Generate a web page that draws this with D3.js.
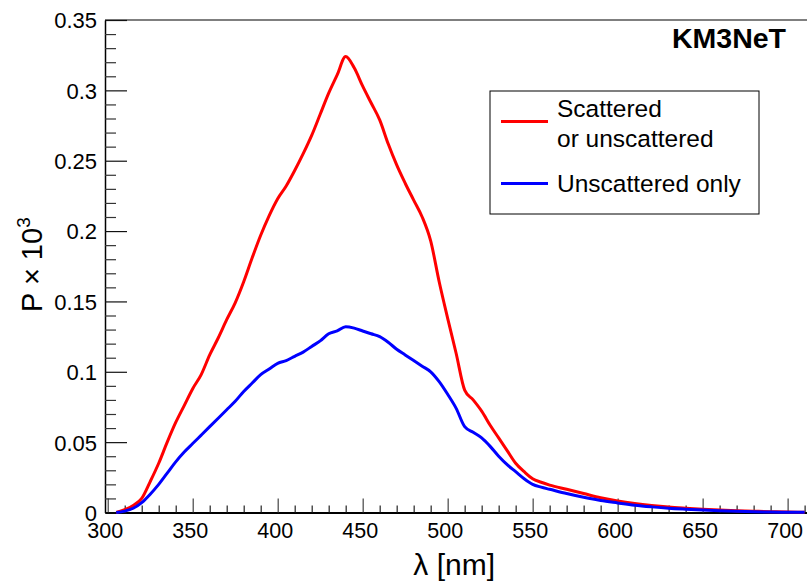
<!DOCTYPE html>
<html><head><meta charset="utf-8">
<script src="https://cdn.jsdelivr.net/npm/d3@7"></script>
<style>
html,body{margin:0;padding:0;background:#fff;}
svg{display:block;font-family:"Liberation Sans",Arial,Helvetica,sans-serif;}
</style></head>
<body>
<svg id="chart" width="807" height="581"></svg>
<script>
// wavelength grid (nm)
const wavelengths = [305,310,315,320,325,330,335,340,345,350,355,360,365,370,375,380,385,390,395,400,405,410,415,420,425,430,435,440,445,450,455,460,465,470,475,480,485,490,495,500,505,510,515,520,525,530,535,540,545,550,555,560,570,580,590,600,610,620,630,640,650,660,670,680,690,700,710];
// P x 10^3, scattered or unscattered
const scattered = [0,0.002,0.005,0.010,0.022,0.035,0.050,0.064,0.076,0.088,0.098,0.112,0.124,0.137,0.149,0.164,0.181,0.197,0.211,0.223,0.232,0.243,0.255,0.268,0.283,0.298,0.311,0.324,0.316,0.303,0.291,0.279,0.262,0.247,0.234,0.222,0.210,0.193,0.164,0.138,0.113,0.087,0.080,0.072,0.062,0.053,0.044,0.035,0.029,0.024,0.0215,0.0195,0.0165,0.0135,0.0105,0.0082,0.0064,0.005,0.0039,0.0031,0.0024,0.0018,0.0013,0.0009,0.0006,0.0003,0.0002];
// P x 10^3, unscattered only
const unscattered = [0,0.001,0.003,0.007,0.013,0.020,0.028,0.036,0.043,0.049,0.055,0.061,0.067,0.073,0.079,0.086,0.092,0.098,0.102,0.106,0.108,0.111,0.114,0.118,0.122,0.127,0.129,0.132,0.131,0.129,0.127,0.125,0.121,0.116,0.112,0.108,0.104,0.100,0.093,0.084,0.074,0.061,0.057,0.053,0.047,0.040,0.034,0.029,0.024,0.020,0.018,0.0165,0.0135,0.0108,0.0085,0.0068,0.0052,0.0040,0.0030,0.0023,0.0017,0.0012,0.0008,0.0005,0.0003,0.0002,0.0001];
const xMajorTicks = [300,350,400,450,500,550,600,650,700];
const yMajorTicks = [0,0.05,0.1,0.15,0.2,0.25,0.3,0.35];
const yTickLabels = ["0","0.05","0.1","0.15","0.2","0.25","0.3","0.35"];
const legendLabels = [["Scattered","or unscattered"],["Unscattered only"]];
const seriesColors = ["#ff0000","#0000ff"];

const svg = d3.select("#chart");
const x = d3.scaleLinear().domain([298.4, 711.4]).range([105, 807]);
const y = d3.scaleLinear().domain([0, 0.35]).range([512.5, 20]);

const xMinor = d3.range(300, 711, 10).filter(v => v % 50 !== 0);
const yMinor = d3.range(0, 36).map(i => i/100).filter((v,i) => i % 5 !== 0);

// frame top line
svg.append("line").attr("x1",105).attr("x2",807).attr("y1",20).attr("y2",20)
  .attr("stroke","#555").attr("stroke-width",1.5);

// X axis
const gx = svg.append("g").attr("transform","translate(0,512.5)");
gx.call(d3.axisBottom(x).tickValues(xMajorTicks).tickSize(-14).tickSizeOuter(0).tickFormat(d3.format("d")));
gx.select(".domain").attr("stroke","#000").attr("stroke-width",2);
gx.selectAll(".tick line").attr("stroke","#444").attr("stroke-width",1.2);
gx.selectAll(".tick text").attr("dy",null).attr("y",25.5).attr("dx",-3)
  .attr("font-size",21.5).attr("fill","#000").attr("font-family","Liberation Sans, Arial, sans-serif");
const gxm = svg.append("g").attr("transform","translate(0,512.5)");
gxm.call(d3.axisBottom(x).tickValues(xMinor).tickSize(-7).tickFormat(""));
gxm.select(".domain").remove();
gxm.selectAll(".tick line").attr("stroke","#222").attr("stroke-width",1.2);

// Y axis
const gy = svg.append("g").attr("transform","translate(105,0)");
gy.call(d3.axisLeft(y).tickValues(yMajorTicks).tickSize(-22).tickSizeOuter(0).tickFormat((d,i)=>yTickLabels[i]));
gy.select(".domain").attr("stroke","#000").attr("stroke-width",1.5);
gy.selectAll(".tick line").attr("stroke","#111").attr("stroke-width",1.2);
gy.selectAll(".tick text").attr("x",-8).attr("dy","0.36em")
  .attr("font-size",22).attr("fill","#000").attr("font-family","Liberation Sans, Arial, sans-serif");
const gym = svg.append("g").attr("transform","translate(105,0)");
gym.call(d3.axisLeft(y).tickValues(yMinor).tickSize(-11).tickFormat(""));
gym.select(".domain").remove();
gym.selectAll(".tick line").attr("stroke","#333").attr("stroke-width",1.2);

// curves
const line = d3.line().x(d=>x(d[0])).y(d=>y(d[1])).curve(d3.curveMonotoneX);
[scattered, unscattered].forEach((s,k)=>{
  svg.append("path").datum(wavelengths.map((w,i)=>[w,s[i]]))
    .attr("d", line).attr("fill","none").attr("stroke",seriesColors[k])
    .attr("stroke-width",3).attr("stroke-linejoin","round");
});

// legend
svg.append("rect").attr("x",490).attr("y",91).attr("width",269).attr("height",123)
  .attr("fill","#fff").attr("stroke","#000").attr("stroke-width",1);
const legY = [121.5, 183.5];
legendLabels.forEach((lines,k)=>{
  svg.append("line").attr("x1",501).attr("x2",548).attr("y1",legY[k]).attr("y2",legY[k])
    .attr("stroke",seriesColors[k]).attr("stroke-width",3);
});
const legText = [[557,116.5,legendLabels[0][0]],[557,146.5,legendLabels[0][1]],[557,191.5,legendLabels[1][0]]];
legText.forEach(t=>{
  svg.append("text").attr("x",t[0]).attr("y",t[1]).attr("font-size",24.5).attr("fill","#000").text(t[2]);
});

// label
svg.append("text").attr("x",786).attr("y",47.5).attr("text-anchor","end")
  .attr("font-size",28.5).attr("font-weight","bold").attr("fill","#000").text("KM3NeT");

// axis titles
svg.append("text").attr("x",495).attr("y",575).attr("text-anchor","end")
  .attr("font-size",30).attr("fill","#000").text("λ [nm]");
const yt = svg.append("text").attr("transform","translate(42,312) rotate(-90)")
  .attr("font-size",29).attr("fill","#000");
yt.append("tspan").text("P \u00d7 10");
yt.append("tspan").attr("font-size",19).attr("dy",-12).text("3");
</script>
</body></html>
